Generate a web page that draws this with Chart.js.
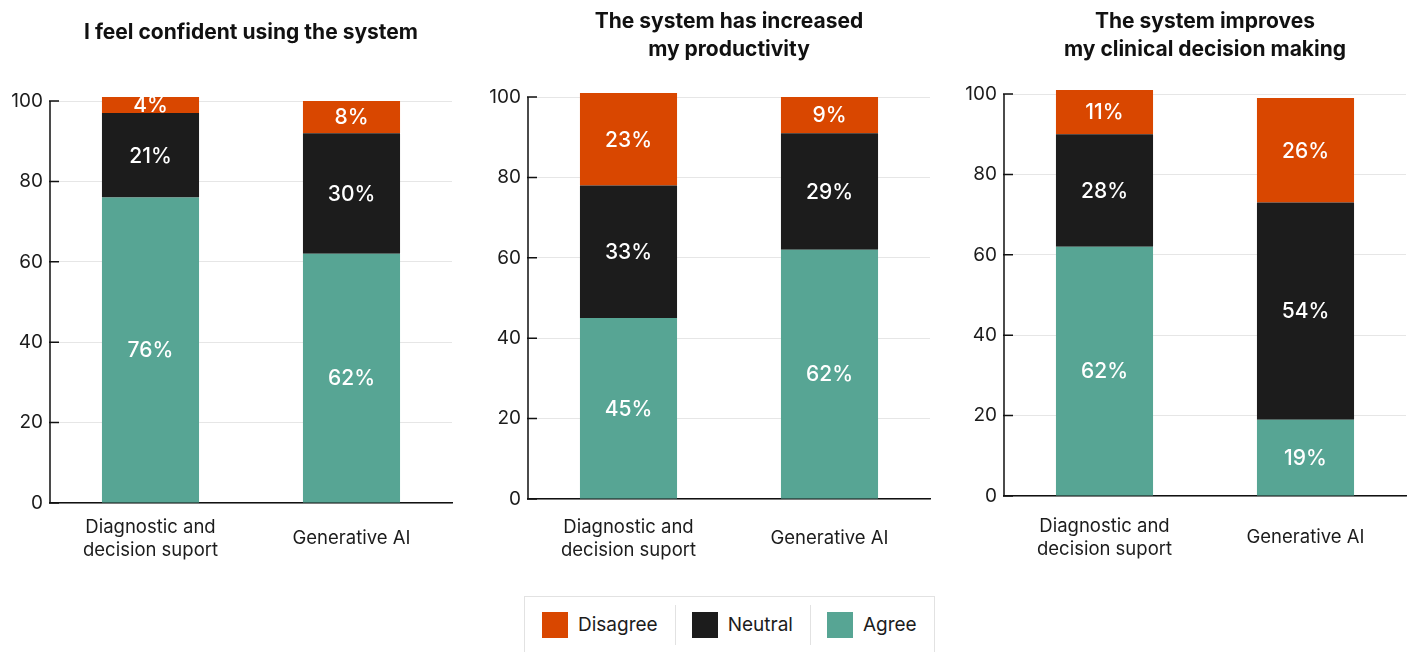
<!DOCTYPE html>
<html lang="en">
<head>
<meta charset="utf-8">
<script src="https://cdn.jsdelivr.net/npm/chart.js@4.4.1/dist/chart.umd.min.js"></script>
<style>
  html, body { margin: 0; padding: 0; background: #fff; overflow: hidden; }
  .page { position: relative; width: 1410px; height: 652px; overflow: hidden; font-family: Inter, 'Noto Sans', sans-serif; }
  .panel { position: absolute; top: 0; width: 502px; height: 580px; }
  .legend { position: absolute; left: 524px; top: 596px; height: 70px; border: 1px solid #e2e2e2; display: flex; align-items: flex-start; }
  .legend .item { display: flex; align-items: center; gap: 10px; padding: 15px 17px 0 16px; font-size: 19px; line-height: 26px; color: #1c1c1c; }
  .legend .box { width: 26px; height: 26px; }
  .legend .sep { width: 1px; height: 40px; margin-top: 8px; background: #e2e2e2; }
</style>
</head>
<body>
<div class="page">
  <div class="panel" style="left:0px"><canvas id="c1" width="502" height="580"></canvas></div>
  <div class="panel" style="left:478px"><canvas id="c2" width="502" height="580"></canvas></div>
  <div class="panel" style="left:954px"><canvas id="c3" width="502" height="580"></canvas></div>
  <div class="legend" id="legend"></div>
</div>

<script>
  // data
  const categories = [['Diagnostic and', 'decision suport'], 'Generative AI'];
  const yTicks = [0, 20, 40, 60, 80, 100];
  const seriesNames = ['Agree', 'Neutral', 'Disagree'];
  const seriesColors = ['#57a594', '#1c1c1c', '#d94700'];

  const title1 = 'I feel confident using the system';
  const agree1 = [76, 62];
  const neutral1 = [21, 30];
  const disagree1 = [4, 8];

  const title2 = ['The system has increased', 'my productivity'];
  const agree2 = [45, 62];
  const neutral2 = [33, 29];
  const disagree2 = [23, 9];

  const title3 = ['The system improves', 'my clinical decision making'];
  const agree3 = [62, 19];
  const neutral3 = [28, 54];
  const disagree3 = [11, 26];

  const FONT = "Inter, 'Noto Sans', sans-serif";

  // percentage labels in the middle of each segment
  const barLabels = {
    id: 'barLabels',
    afterDatasetsDraw(chart) {
      const ctx = chart.ctx;
      ctx.save();
      ctx.fillStyle = '#ffffff';
      ctx.font = '500 21px ' + FONT;
      ctx.textAlign = 'center';
      ctx.textBaseline = 'middle';
      chart.data.datasets.forEach((ds, i) => {
        chart.getDatasetMeta(i).data.forEach((bar, j) => {
          ctx.fillText(ds.data[j] + '%', bar.x, (bar.y + bar.base) / 2 + 1);
        });
      });
      ctx.restore();
    }
  };

  // y axis line from 0 to 100 with short inward ticks
  const yAxisLine = {
    id: 'yAxisLine',
    afterDraw(chart) {
      const ctx = chart.ctx;
      const y = chart.scales.y;
      const x0 = chart.chartArea.left;
      ctx.save();
      ctx.strokeStyle = '#111';
      ctx.lineWidth = 1.5;
      ctx.beginPath();
      ctx.moveTo(x0, y.getPixelForValue(0));
      ctx.lineTo(x0, y.getPixelForValue(100));
      yTicks.forEach(v => {
        const py = y.getPixelForValue(v);
        ctx.moveTo(x0 - 1, py);
        ctx.lineTo(x0 + 9, py);
      });
      ctx.stroke();
      ctx.restore();
    }
  };

  // center the title over the plot area rather than the whole canvas
  const titleOverPlot = {
    id: 'titleOverPlot',
    afterLayout(chart) {
      const t = chart.titleBlock;
      if (t) {
        t.left = chart.chartArea.left;
        t.right = chart.chartArea.right;
        t.width = t.right - t.left;
      }
    }
  };

  function makeChart(id, title, agree, neutral, disagree, geo) {
    const values = [agree, neutral, disagree];
    new Chart(document.getElementById(id), {
      type: 'bar',
      data: {
        labels: categories,
        datasets: values.map((d, i) => ({
          label: seriesNames[i],
          data: d,
          backgroundColor: seriesColors[i],
          borderWidth: 0,
          barPercentage: 0.483,
          categoryPercentage: 1.0
        }))
      },
      options: {
        responsive: false,
        animation: false,
        layout: { padding: { left: 0, right: 50, top: 0, bottom: 0 } },
        plugins: {
          legend: { display: false },
          tooltip: { enabled: false },
          title: {
            display: true,
            text: title,
            color: '#111',
            font: { family: FONT, size: 21, weight: 'bold', lineHeight: 1.333 },
            padding: { top: geo.titleTop, bottom: geo.titleBottom }
          }
        },
        scales: {
          x: {
            stacked: true,
            grid: { display: false },
            border: { color: '#111', width: 1.5 },
            ticks: {
              color: '#1c1c1c',
              font: { family: FONT, size: 18.5, lineHeight: 1.25 },
              padding: geo.xPad,
              crossAlign: 'center',
              maxRotation: 0,
              autoSkip: false
            },
            afterFit(scale) { scale.height = geo.xHeight; }
          },
          y: {
            stacked: true,
            min: 0,
            max: 103,
            grid: { color: '#e6e6e6', lineWidth: 1, drawTicks: false },
            border: { display: false },
            ticks: {
              color: '#1c1c1c',
              font: { family: FONT, size: 19 },
              padding: 7
            },
            afterBuildTicks(scale) { scale.ticks = yTicks.map(v => ({ value: v })); },
            afterFit(scale) { scale.width = 50; }
          }
        }
      },
      plugins: [barLabels, yAxisLine, titleOverPlot]
    });
  }

  makeChart('c1', title1, agree1, neutral1, disagree1, { titleTop: 19, titleBottom: 42, xHeight: 77, xPad: 16 });
  makeChart('c2', title2, agree2, neutral2, disagree2, { titleTop: 8, titleBottom: 21, xHeight: 81, xPad: 20 });
  makeChart('c3', title3, agree3, neutral3, disagree3, { titleTop: 8, titleBottom: 18, xHeight: 84, xPad: 22 });

  // legend, in reference order: Disagree, Neutral, Agree
  const legendEl = document.getElementById('legend');
  [2, 1, 0].forEach((i, k) => {
    if (k > 0) {
      const sep = document.createElement('div');
      sep.className = 'sep';
      legendEl.appendChild(sep);
    }
    const item = document.createElement('div');
    item.className = 'item';
    if (k === 0) item.style.paddingLeft = '17px';
    item.innerHTML = '<span class="box" style="background:' + seriesColors[i] + '"></span><span>' + seriesNames[i] + '</span>';
    legendEl.appendChild(item);
  });
</script>
</body>
</html>
